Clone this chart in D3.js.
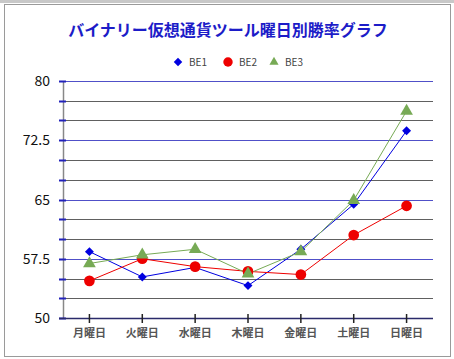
<!DOCTYPE html>
<html>
<head>
<meta charset="utf-8">
<script src="https://cdn.jsdelivr.net/npm/d3@7"></script>
<style>
  body { margin: 0; background: #fff; }
  text { font-family: "Noto Sans CJK JP", "Noto Sans", sans-serif; }
</style>
</head>
<body>
<svg id="chart" width="454" height="359"></svg>
<script>
// data
const days = ["月曜日", "火曜日", "水曜日", "木曜日", "金曜日", "土曜日", "日曜日"];
const be1 = [58.4, 55.2, 56.4, 54.1, 58.7, 64.4, 73.7];
const be2 = [54.7, 57.5, 56.5, 55.9, 55.5, 60.5, 64.2];
const be3 = [56.9, 58.0, 58.7, 55.6, 58.4, 64.9, 76.2];
const seriesNames = ["BE1", "BE2", "BE3"];
const yLabels = [50, 57.5, 65, 72.5, 80];
const yGrid = d3.range(50, 80.01, 2.5);

const svg = d3.select("#chart");

// frame
svg.append("rect").attr("x", 0).attr("y", 0).attr("width", 454).attr("height", 3).attr("fill", "#c8c8c8");
svg.append("rect").attr("x", 4.5).attr("y", 4.5).attr("width", 446).attr("height", 352)
    .attr("fill", "#fff").attr("stroke", "#9a9a9a");

const margin = {top: 81, left: 63, right: 21, bottom: 41},
    width = 454 - margin.left - margin.right,
    height = 359 - margin.top - margin.bottom;

const x = d3.scaleBand().domain(days).range([0, width]);
const y = d3.scaleLinear().domain([50, 80]).range([height, 0]);

const g = svg.append("g").attr("transform", "translate(" + margin.left + "," + margin.top + ")");

// title
svg.append("text").attr("x", 228).attr("y", 36).attr("text-anchor", "middle")
    .attr("font-size", 16).attr("font-weight", "bold").attr("fill", "#1c1cc8")
    .text("バイナリー仮想通貨ツール曜日別勝率グラフ");

// gridlines
const isMajor = v => Math.abs((v - 50) / 7.5 - Math.round((v - 50) / 7.5)) < 1e-6;
g.selectAll(".grid").data(yGrid.filter(v => v > 50)).enter().append("line")
    .attr("x1", 0).attr("x2", width)
    .attr("y1", d => Math.round(y(d)) + 0.5).attr("y2", d => Math.round(y(d)) + 0.5)
    .attr("stroke", d => isMajor(d) ? "#5050c8" : "#606060")
    .attr("stroke-width", 1);

// y axis
g.append("line").attr("x1", 0.5).attr("x2", 0.5).attr("y1", 0).attr("y2", height)
    .attr("stroke", "#888").attr("stroke-width", 1.5);
g.selectAll(".ytick").data(yGrid).enter().append("line")
    .attr("x1", -4).attr("x2", 3)
    .attr("y1", d => Math.round(y(d)) + 0.5).attr("y2", d => Math.round(y(d)) + 0.5)
    .attr("stroke", "#2222bb").attr("stroke-width", 2);
g.selectAll(".ylab").data(yLabels).enter().append("text")
    .attr("x", -13).attr("y", d => y(d)).attr("dy", "0.36em")
    .attr("text-anchor", "end").attr("font-size", 14).attr("fill", "#111")
    .text(d => d);

// x axis
g.append("line").attr("x1", -4).attr("x2", width).attr("y1", height + 0.5).attr("y2", height + 0.5)
    .attr("stroke", "#2a2a6a").attr("stroke-width", 1.5);
g.selectAll(".xtick").data(days).enter().append("line")
    .attr("x1", d => x(d) + x.bandwidth() / 2).attr("x2", d => x(d) + x.bandwidth() / 2)
    .attr("y1", height - 4).attr("y2", height + 5)
    .attr("stroke", "#222").attr("stroke-width", 1.5);
g.selectAll(".xlab").data(days).enter().append("text")
    .attr("x", d => x(d) + x.bandwidth() / 2).attr("y", height + 19)
    .attr("text-anchor", "middle").attr("font-size", 11).attr("font-weight", "bold").attr("fill", "#555")
    .text(d => d);

// series
const series = [
    {name: seriesNames[0], values: be1, color: "#0000e0", shape: d3.symbolSquare, size: 40, rot: 45},
    {name: seriesNames[1], values: be2, color: "#ee0000", shape: d3.symbolCircle, size: 90, rot: 0},
    {name: seriesNames[2], values: be3, color: "#77aa55", shape: d3.symbolTriangle, size: 70, rot: 0}
];

const line = d3.line()
    .x((d, i) => x(days[i]) + x.bandwidth() / 2)
    .y(d => y(d));

series.forEach(s => {
    g.append("path").datum(s.values)
        .attr("fill", "none").attr("stroke", s.color).attr("stroke-width", 1)
        .attr("d", line);
});
series.forEach(s => {
    g.selectAll(".pt-" + s.name).data(s.values).enter().append("path")
        .attr("transform", (d, i) => "translate(" + (x(days[i]) + x.bandwidth() / 2) + "," + y(d) + ") rotate(" + s.rot + ")")
        .attr("d", d3.symbol().type(s.shape).size(s.size))
        .attr("fill", s.color);
});

// legend
const legendX = [178, 228, 274];
const legend = svg.selectAll(".legend").data(series).enter().append("g")
    .attr("transform", (d, i) => "translate(" + legendX[i] + ",62)");
legend.append("path")
    .attr("transform", d => "rotate(" + d.rot + ")")
    .attr("d", d => d3.symbol().type(d.shape).size(d.name === "BE2" ? 70 : 36)())
    .attr("fill", d => d.color);
legend.append("text").attr("x", 11).attr("dy", "0.35em")
    .attr("font-size", 10).attr("fill", "#444")
    .text(d => d.name);
</script>
</body>
</html>
